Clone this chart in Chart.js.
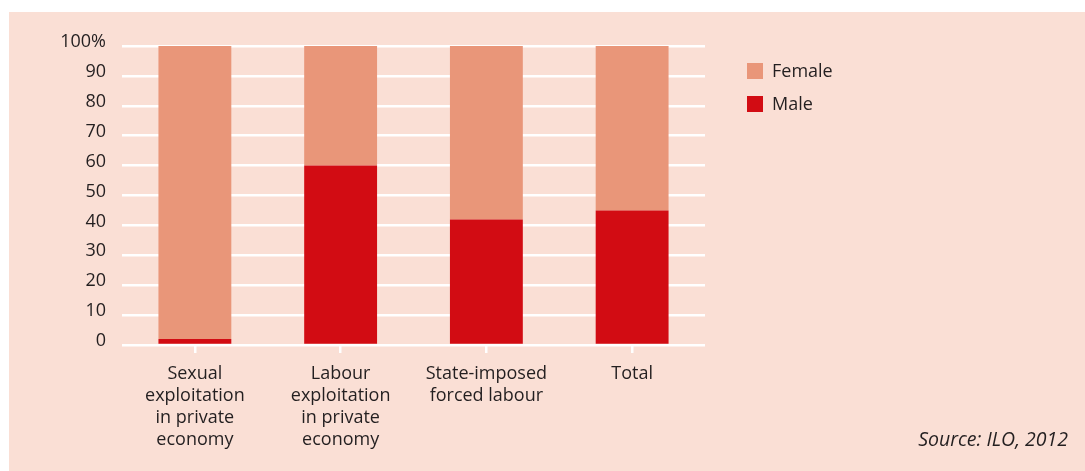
<!DOCTYPE html>
<html>
<head>
<meta charset="utf-8">
<script src="https://cdn.jsdelivr.net/npm/chart.js@4/dist/chart.umd.min.js"></script>
<style>
  html, body { margin: 0; padding: 0; background: #ffffff; }
  body { width: 1085px; height: 471px; position: relative; overflow: hidden; font-family: "Open Sans", "Noto Sans", sans-serif; color: #231f20; }
  #panel { position: absolute; left: 9px; top: 12px; right: 0; bottom: 0; background: #fadfd5; }
  #wrap { position: absolute; left: 0; top: 0; width: 1085px; height: 471px; }
  .legend { position: absolute; left: 747px; font-size: 18px; }
  .legend span.box { position: absolute; left: 0; width: 16px; height: 16px; }
  .legend span.lbl { position: absolute; left: 25px; top: -5px; white-space: nowrap; }
  #source { position: absolute; right: 17px; top: 425px; font-size: 19.5px; font-style: italic; white-space: nowrap; }
</style>
</head>
<body>
<div id="panel"></div>
<div id="wrap"><canvas id="chart"></canvas></div>
<div class="legend" style="top:63px"><span class="box" style="background:#e99679"></span><span class="lbl">Female</span></div>
<div class="legend" style="top:96px"><span class="box" style="background:#d20c13"></span><span class="lbl">Male</span></div>
<div id="source">Source: ILO, 2012</div>
<script>
// ข้อมูล
const categories = [
    ["Sexual", "exploitation", "in private", "economy"],
    ["Labour", "exploitation", "in private", "economy"],
    ["State-imposed", "forced labour"],
    ["Total"],
];
const maleValues = [2, 60, 42, 45];
const femaleValues = [98, 40, 58, 55];

const textColor = "#231f20";
const fontFamily = "'Open Sans', 'Noto Sans', sans-serif";

new Chart(document.getElementById("chart").getContext("2d"), {
    type: "bar",
    data: {
        labels: categories,
        datasets: [
            {
                label: "Male",
                data: maleValues,
                backgroundColor: "#d20c13",
                barPercentage: 0.5,
                categoryPercentage: 1.0,
            },
            {
                label: "Female",
                data: femaleValues,
                backgroundColor: "#e99679",
                barPercentage: 0.5,
                categoryPercentage: 1.0,
            },
        ],
    },
    options: {
        responsive: true,
        maintainAspectRatio: false,
        animation: false,
        layout: { padding: { left: 0, top: 46, right: 380, bottom: 0 } },
        plugins: {
            legend: { display: false },
            tooltip: { enabled: false },
        },
        scales: {
            x: {
                stacked: true,
                border: { display: false },
                grid: {
                    drawOnChartArea: false,
                    offset: false,
                    color: "#ffffff",
                    lineWidth: 2.5,
                    tickLength: 8,
                },
                ticks: {
                    color: textColor,
                    font: { family: fontFamily, size: 18, lineHeight: 1.22 },
                    padding: 10,
                    maxRotation: 0,
                },
                afterFit: (s) => { s.height = 126; },
            },
            y: {
                stacked: true,
                min: 0,
                max: 100,
                border: { display: false },
                grid: { color: "#ffffff", lineWidth: 2.5, drawTicks: false },
                ticks: {
                    stepSize: 10,
                    color: textColor,
                    font: { family: fontFamily, size: 18 },
                    padding: 16,
                    labelOffset: -4,
                    callback: (v) => (v === 100 ? "100%" : v),
                },
                afterFit: (s) => { s.width = 122; },
            },
        },
    },
});
</script>
</body>
</html>
